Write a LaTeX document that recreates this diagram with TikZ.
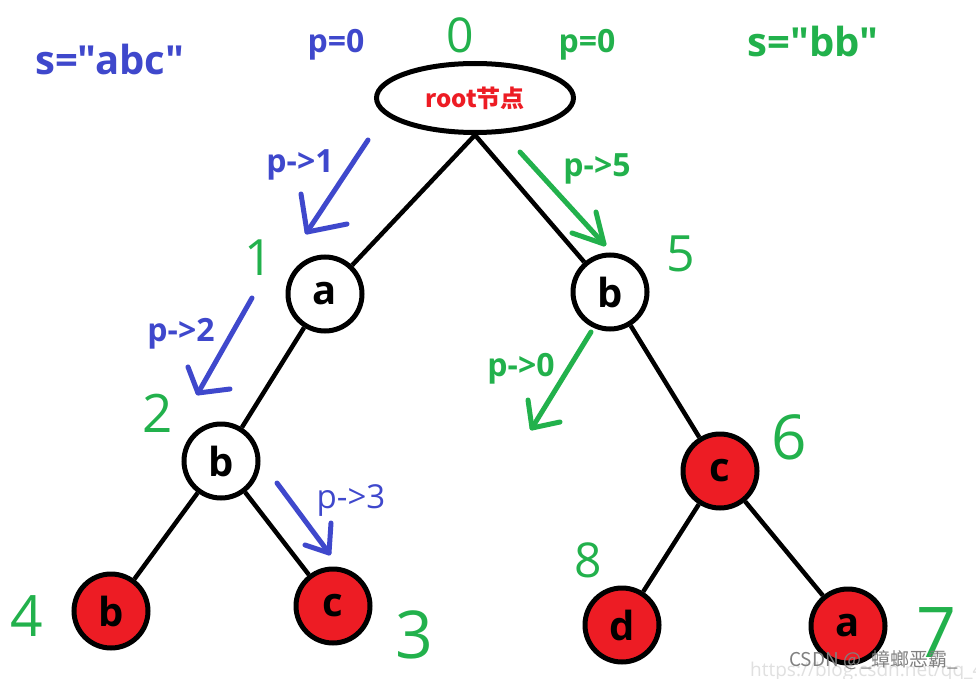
\documentclass[tikz,border=0pt]{standalone}
\usetikzlibrary{shapes.geometric}
\usepackage{fontspec}
\setmainfont{Open Sans}
\newfontfamily\lab{Open Sans}
\newfontfamily\cjk{Noto Sans CJK SC}
\definecolor{pblue}{HTML}{3F48CC}
\definecolor{pgreen}{HTML}{22B14C}
\definecolor{pred}{HTML}{ED1C24}
\newcommand{\fsz}[1]{\fontsize{#1}{#1}\selectfont}
\begin{document}
\begin{tikzpicture}[x=1pt,y=-1pt,
  treenode/.style={circle,draw=black,line width=5pt,fill=white,minimum size=74pt,inner sep=0pt,font=\fsz{40}\bfseries},
  leafnode/.style={treenode,fill=pred},
  edge/.style={line width=4.5pt,black},
  barrow/.style={pblue,line width=5pt,line cap=round,line join=round},
  garrow/.style={pgreen,line width=5pt,line cap=round,line join=round},
  plabel/.style={inner sep=0pt,anchor=base,font=\lab\fsz{32}\bfseries},
  slabel/.style={inner sep=0pt,anchor=base,font=\lab\fsz{40}\bfseries},
  hand/.style={pgreen,inner sep=0pt}
]
\useasboundingbox (0,0) rectangle (976,679);
\fill[white] (0,0) rectangle (976,679);

% tree nodes
\node[ellipse,draw=black,line width=5pt,fill=white,minimum width=197pt,minimum height=69pt,inner sep=0pt,
      text=pred,font=\cjk\fsz{24}\bfseries] (root) at (475,98) {root节点};
\node[treenode] (na) at (325,294) {a};
\node[treenode] (nb) at (610,292) {b};
\node[treenode] (nbl) at (221,461) {b};
\node[leafnode] (lb) at (111,611) {b};
\node[leafnode] (lc) at (333,606) {c};
\node[leafnode] (rc) at (720,471) {c};
\node[leafnode] (rd) at (622,625) {d};
\node[leafnode] (ra) at (848,626) {a};

% edges
\draw[edge,line join=miter] (na) -- (root.south) -- (nb);
\draw[edge] (na) -- (nbl);
\draw[edge] (nbl) -- (lb);
\draw[edge] (nbl) -- (lc);
\draw[edge] (nb) -- (rc);
\draw[edge] (rc) -- (rd);
\draw[edge] (rc) -- (ra);

% top labels
\node[slabel,text=pblue] (sabc) at (110,75) {s="abc"};
\node[slabel,text=pgreen] (sbb) at (813,57) {s="bb"};
\node[plabel,text=pblue] (p0b) at (336,53) {p=0};
\node[plabel,text=pgreen] (p0g) at (587,53) {p=0};

% pointer labels
\node[plabel,text=pblue] (l1) at (300,173) {p->1};
\node[plabel,text=pgreen] (l5) at (597,177) {p->5};
\node[plabel,text=pblue] (l2) at (181,341) {p->2};
\node[plabel,text=pgreen] (l0) at (521,376) {p->0};
\node[plabel,text=pblue,font=\lab\fsz{33}] (l3) at (351,508) {p->3};

% pointer arrows
\coordinate (a1s) at (368,140); \coordinate (a1t) at (307,232);
\coordinate (a1h) at (301,194); \coordinate (a1k) at (347,224);
\draw[barrow] (a1s) -- (a1t); \draw[barrow] (a1h) -- (a1t) -- (a1k);

\coordinate (a5s) at (520,152); \coordinate (a5t) at (604,244);
\coordinate (a5h) at (596,212); \coordinate (a5k) at (572,233);
\draw[garrow] (a5s) -- (a5t); \draw[garrow] (a5h) -- (a5t) -- (a5k);

\coordinate (a2s) at (252,298); \coordinate (a2t) at (198,393);
\coordinate (a2h) at (188,367); \coordinate (a2k) at (230,389);
\draw[barrow] (a2s) -- (a2t); \draw[barrow] (a2h) -- (a2t) -- (a2k);

\coordinate (a0s) at (591,332); \coordinate (a0t) at (532,428);
\coordinate (a0h) at (528,400); \coordinate (a0k) at (560,422);
\draw[garrow] (a0s) -- (a0t); \draw[garrow] (a0h) -- (a0t) -- (a0k);

\coordinate (a3s) at (277,483); \coordinate (a3t) at (329,553);
\coordinate (a3h) at (305,545); \coordinate (a3k) at (331,523);
\draw[barrow] (a3s) -- (a3t); \draw[barrow] (a3h) -- (a3t) -- (a3k);

% handwritten index numbers
\node[hand,font=\fsz{48}] (h0) at (460,35) {0};
\node[hand,font=\fsz{50}] (h1) at (259,258) {1};
\node[hand,font=\fsz{53}] (h2) at (158,413) {2};
\node[hand,font=\fsz{66}] (h3) at (414,635) {3};
\node[hand,font=\fsz{57}] (h4) at (27,616) {4};
\node[hand,font=\fsz{50}] (h5) at (681,254) {5};
\node[hand,font=\fsz{62}] (h6) at (789,437) {6};
\node[hand,font=\fsz{70}] (h7) at (936,633) {7};
\node[hand,font=\fsz{48}] (h8) at (588,560) {8};

% watermark
\begin{scope}
\clip (0,0) rectangle (976,679);
\node[inner sep=0pt,anchor=base west,text=black!12,font=\fsz{19}] (wm2) at (750,676) {https://blog.csdn.net/qq\_40688};
\node[inner sep=0pt,anchor=base west,text=black!50,font=\cjk\fsz{19}] (wm1) at (789,666) {CSDN @\_蟑螂恶霸\_};
\end{scope}
\end{tikzpicture}
\end{document}
